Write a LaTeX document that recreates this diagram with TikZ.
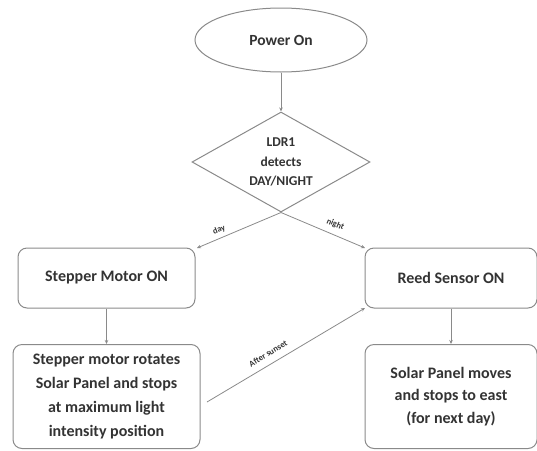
\documentclass[tikz,border=0pt]{standalone}
\usepackage{fontspec}
\setmainfont{Carlito}
\usetikzlibrary{shapes.geometric,arrows.meta}
\definecolor{ln}{HTML}{8A8A8A}
\definecolor{tx}{HTML}{333333}
\begin{document}
\begin{tikzpicture}[x=1pt,y=-1pt,
  every node/.style={text=tx,font=\bfseries},
  boxstyle/.style={draw=ln,line width=1pt,rounded corners=9pt,align=center,inner sep=0pt},
  conn/.style={draw=ln,line width=0.8pt,-{Stealth[length=4pt,width=3.5pt]}},
  lbl/.style={font=\bfseries\fontsize{8.5}{9}\selectfont,text=tx,inner sep=1pt}]
\useasboundingbox (0,0) rectangle (537,450);
\node[draw=ln,line width=1pt,ellipse,minimum width=172pt,minimum height=64pt,font=\bfseries\fontsize{15.5}{18}\selectfont] (pw) at (281,40) {Power On};
\node[draw=ln,line width=1pt,diamond,aspect=1.78,minimum width=178pt,minimum height=100pt,inner sep=0pt] (ldr) at (281,162) {};
\node[align=center,font=\bfseries\fontsize{13.5}{19.5}\selectfont] (ldrt) at (281,162) {LDR1\\detects\\DAY/NIGHT};
\node[boxstyle,minimum width=177pt,minimum height=60pt,font=\bfseries\fontsize{16}{18}\selectfont] (sm) at (106.5,278) {Stepper Motor ON};
\node[boxstyle,minimum width=187pt,minimum height=104pt,font=\bfseries\fontsize{16}{24}\selectfont] (rot) at (106.5,396.5) {Stepper motor rotates\\Solar Panel and stops\\at maximum light\\intensity position};
\node[boxstyle,minimum width=172pt,minimum height=60pt,font=\bfseries\fontsize{16}{18}\selectfont] (rs) at (451,278) {Reed Sensor ON};
\node[boxstyle,minimum width=172pt,minimum height=104pt,font=\bfseries\fontsize{16}{22.5}\selectfont] (sp) at (451,396.5) {Solar Panel moves\\and stops to east\\(for next day)};
\coordinate (smne) at (197,248);
\coordinate (rsnw) at (365,248);
\coordinate (rssw) at (365,308);
\coordinate (rote) at (207,402);
\draw[conn] (pw) -- (ldr);
\draw[conn] (ldr.south) -- node[lbl,pos=0.7,above=3pt,sloped] (dayl) {day} (smne);
\draw[conn] (ldr.south) -- node[lbl,pos=0.6,above=5pt,sloped] (nightl) {night} (rsnw);
\draw[conn] (sm) -- (rot);
\draw[conn] (rs) -- (sp);
\draw[conn] (rote) -- node[lbl,pos=0.42,above=6pt,sloped] (asl) {After sunset} (rssw);
\end{tikzpicture}
\end{document}
